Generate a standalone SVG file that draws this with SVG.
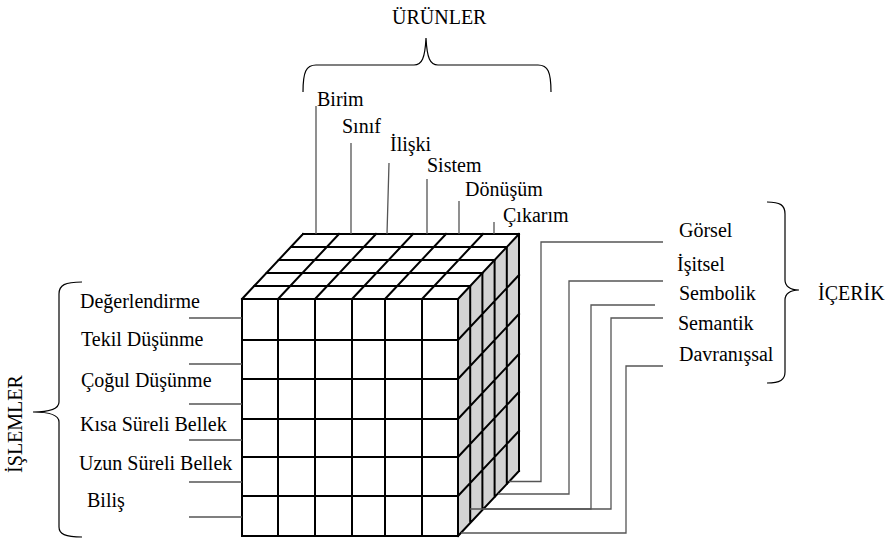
<svg xmlns="http://www.w3.org/2000/svg" width="895" height="544" viewBox="0 0 895 544">
  <style>
    .edge { stroke: #000; stroke-width: 2; fill: none; stroke-linecap: square; }
    .conn { stroke: #555; stroke-width: 1.3; fill: none; }
    .brace { stroke: #000; stroke-width: 1.2; fill: none; }
  </style>
  <rect width="895" height="544" fill="#fff"/>

  <!-- Structure-of-intellect cube: 6 products x 6 operations x 5 contents -->
  <g id="cube">
    <polygon points="242,299 458,299 519,234 303,234" fill="#fff"/>
    <polygon points="458,299 519,234 519,471 458,536" fill="#d3d3d3"/>
    <rect x="242" y="299" width="216" height="237" fill="#fff"/>
    <!-- front face grid -->
    <path class="edge" d="M242,299V536 M278,299V536 M315,299V536 M352,299V536 M385,299V536 M422,299V536 M458,299V536
      M242,299H458 M242,340H458 M242,379H458 M242,419H458 M242,457H458 M242,496H458 M242,536H458"/>
    <!-- top face grid -->
    <path class="edge" d="M242,299H458 M254.2,286H470.2 M266.4,273H482.4 M278.6,260H494.6 M290.8,247H506.8 M303,234H519
      M242,299L303,234 M278,299L339,234 M315,299L376,234 M352,299L413,234 M385,299L446,234 M422,299L483,234 M458,299L519,234"/>
    <!-- right face grid -->
    <path class="edge" d="M470.2,286V523 M482.4,273V510 M494.6,260V497 M506.8,247V484 M519,234V471
      M458,340L519,275 M458,379L519,314 M458,419L519,354 M458,457L519,392 M458,496L519,431 M458,536L519,471"/>
  </g>

  <!-- leader lines -->
  <g id="connectors">
    <!-- products -->
    <path class="conn" d="M316,106V234 M351,143V234 M389,163L387,234 M427,179V234 M459,201V234 M494,222V234"/>
    <!-- operations -->
    <path class="conn" d="M189,318H242 M189,364H242 M189,404H242 M189,440H242 M189,482H242 M189,517H242"/>
    <!-- contents -->
    <path class="conn" d="M663,242H541V481.5H509"/>
    <path class="conn" d="M663,281H569V494H498"/>
    <path class="conn" d="M655,305H591V509H483"/>
    <path class="conn" d="M663,318H611V509H470"/>
    <path class="conn" d="M663,366H626V533H461"/>
  </g>

  <g font-family="Liberation Serif, Times New Roman, serif" font-size="20" fill="#000">
    <!-- products axis -->
    <g id="products">
      <path class="brace" d="M303,92 C303,72 306,65 316,65 H414 C422,65 425,58 426,38 C427,58 430,65 438,65 H538 C548,65 551,72 551,92"/>
      <text x="392" y="24">ÜRÜNLER</text>
    </g>
    <g id="product-birim"><text x="317" y="106">Birim</text></g>
    <g id="product-sinif"><text x="342" y="133">Sınıf</text></g>
    <g id="product-iliski"><text x="390" y="151">İlişki</text></g>
    <g id="product-sistem"><text x="427" y="172">Sistem</text></g>
    <g id="product-donusum"><text x="465" y="196">Dönüşüm</text></g>
    <g id="product-cikarim"><text x="503" y="222">Çıkarım</text></g>

    <!-- contents axis -->
    <g id="contents">
      <path class="brace" d="M767,202 C780,202 785,205 785,214 V280 C785,286 790,290 799,290 C790,290 785,294 785,300 V372 C785,380 780,383 767,383"/>
      <text x="818" y="300">İÇERİK</text>
    </g>
    <g id="content-gorsel"><text x="679" y="237">Görsel</text></g>
    <g id="content-isitsel"><text x="677" y="271">İşitsel</text></g>
    <g id="content-sembolik"><text x="679" y="300">Sembolik</text></g>
    <g id="content-semantik"><text x="678" y="330">Semantik</text></g>
    <g id="content-davranissal"><text x="679" y="361">Davranışsal</text></g>

    <!-- operations axis -->
    <g id="operations">
      <path class="brace" d="M82,282 C65,282 59,285 59,294 V402 C59,408 52,412 33,412 C52,412 59,416 59,422 V527 C59,534 65,537 82,537"/>
      <text transform="translate(22,424) rotate(-90)" text-anchor="middle">İŞLEMLER</text>
    </g>
    <g id="op-degerlendirme"><text x="80" y="308">Değerlendirme</text></g>
    <g id="op-tekil"><text x="81" y="346">Tekil Düşünme</text></g>
    <g id="op-cogul"><text x="81" y="387">Çoğul Düşünme</text></g>
    <g id="op-kisa"><text x="80" y="431">Kısa Süreli Bellek</text></g>
    <g id="op-uzun"><text x="79" y="470">Uzun Süreli Bellek</text></g>
    <g id="op-bilis"><text x="87" y="507">Biliş</text></g>
  </g>
</svg>
